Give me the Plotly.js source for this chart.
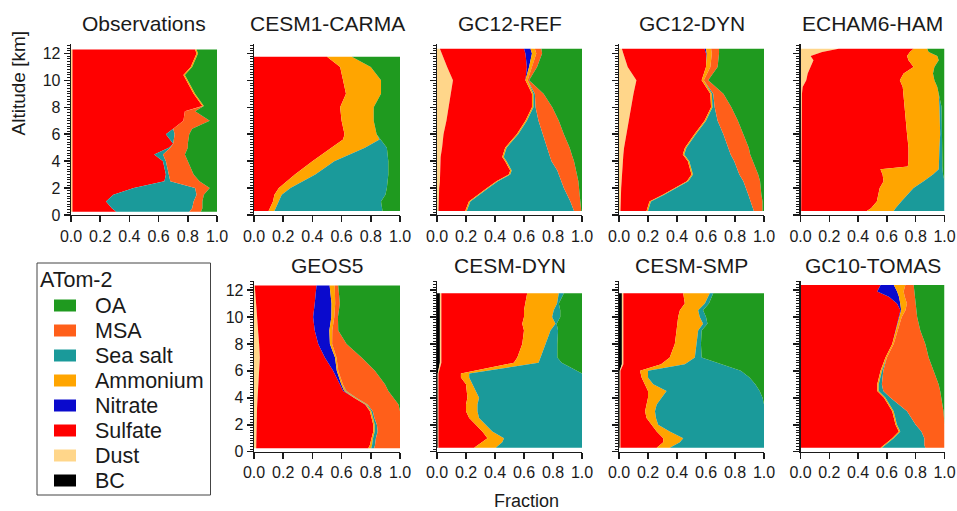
<!DOCTYPE html>
<html><head><meta charset="utf-8">
<script src="https://cdn.plot.ly/plotly-3.0.1.min.js"></script>
<style>html,body{margin:0;padding:0;background:#fff;overflow:hidden}#chart{width:957px;height:511px}</style>
</head><body><div id="chart"></div>
<script>
// ---------- categories / styling lists ----------
const SPECIES = ['BC','Dust','Sulfate','Nitrate','Ammonium','Sea salt','MSA','OA'];
const COLORS  = ['#000000','#FFD68A','#FF0000','#0A0ACD','#FFA500','#1A9A9A','#FF5F1A','#1F9A1F'];
const LEGEND_ORDER = ['OA','MSA','Sea salt','Ammonium','Nitrate','Sulfate','Dust','BC'];
const LEGEND_TITLE = 'ATom-2';
const X_TICKS = [0,0.2,0.4,0.6,0.8,1.0];
const X_TICK_LABELS = ['0.0','0.2','0.4','0.6','0.8','1.0'];
const Y_TICKS = [0,2,4,6,8,10,12];
const Y_TICK_LABELS = ['0','2','4','6','8','10','12'];

// ---------- Observations ----------
const OBS_ALT      = [0.25,0.5,1,1.5,2,2.5,3,4,4.5,5,5.3,6,6.4,7,7.7,8.1,9,10,10.4,11,12,12.3];
const OBS_DUST     = [0.01,0.01,0.01,0.01,0.01,0.01,0.01,0.01,0.01,0.01,0.01,0.01,0.01,0.01,0.01,0.01,0.01,0.01,0.01,0.01,0.01,0.01];
const OBS_SULFATE  = [0.30,0.27,0.23,0.28,0.42,0.63,0.64,0.62,0.56,0.66,0.69,0.64,0.69,0.76,0.77,0.89,0.83,0.78,0.76,0.81,0.85,0.84];
const OBS_AMMONIUM = [0,0,0,0,0,0,0,0,0,0,0,0,0,0,0,0.01,0.01,0.01,0.01,0.01,0.01,0.01];
const OBS_SEASALT  = [0.50,0.55,0.60,0.57,0.42,0.04,0.02,0.02,0.06,0.01,0,0.06,0,0,0,0,0,0,0,0,0,0];
const OBS_MSA      = [0.08,0.07,0.06,0.05,0.10,0.20,0.17,0.15,0.15,0.12,0.10,0.10,0.13,0.18,0.07,0,0,0,0,0,0,0];
const OBS_OA       = [0.11,0.10,0.10,0.09,0.05,0.12,0.16,0.20,0.22,0.20,0.20,0.19,0.17,0.05,0.15,0.09,0.15,0.20,0.22,0.17,0.13,0.14];

// ---------- CESM1-CARMA ----------
const CARMA_ALT      = [0.3,1.0,1.5,2.0,3.0,4.0,5.0,5.6,6.0,7.0,8.0,9.0,10.0,11.0,11.75];
const CARMA_SULFATE  = [0.10,0.13,0.14,0.17,0.28,0.40,0.53,0.61,0.62,0.60,0.59,0.63,0.61,0.59,0.50];
const CARMA_AMMONIUM = [0.04,0.04,0.05,0.08,0.14,0.15,0.23,0.25,0.22,0.22,0.23,0.24,0.26,0.21,0.17];
const CARMA_SEASALT  = [0.74,0.70,0.71,0.66,0.50,0.37,0.15,0.01,0,0,0,0,0,0,0];
const CARMA_OA       = [0.12,0.13,0.10,0.09,0.08,0.08,0.09,0.13,0.16,0.18,0.18,0.13,0.13,0.20,0.33];

// ---------- GC12-REF ----------
const REF_ALT      = [0.3,1,2,2.5,3,3.3,4,4.3,5,6,7,8,9,10,11,12,12.35];
const REF_DUST     = [0.01,0.01,0.015,0.02,0.02,0.02,0.025,0.025,0.035,0.045,0.065,0.08,0.09,0.11,0.07,0.035,0.02];
const REF_SULFATE  = [0.185,0.21,0.33,0.39,0.475,0.485,0.445,0.425,0.435,0.505,0.545,0.575,0.565,0.50,0.55,0.575,0.58];
const REF_NITRATE  = [0,0,0,0,0,0,0,0,0,0,0,0,0,0,0.015,0.045,0.045];
const REF_AMMONIUM = [0.01,0.01,0.01,0.01,0.01,0.01,0.01,0.01,0.01,0.01,0.01,0.01,0.01,0.015,0.02,0.03,0.03];
const REF_SEASALT  = [0.74,0.69,0.52,0.44,0.335,0.315,0.31,0.32,0.28,0.17,0.08,0.015,0.01,0,0,0,0];
const REF_MSA      = [0.05,0.07,0.105,0.115,0.125,0.13,0.155,0.155,0.155,0.145,0.14,0.115,0.06,0.01,0.035,0.04,0.045];
const REF_OA       = [0.005,0.01,0.02,0.025,0.035,0.04,0.055,0.065,0.085,0.125,0.16,0.205,0.265,0.365,0.31,0.275,0.28];

// ---------- GC12-DYN ----------
const GDYN_ALT      = [0.3,1,1.5,2,2.5,3,4,4.5,5,6,7,8,9,10,11,12,12.35];
const GDYN_DUST     = [0.01,0.01,0.012,0.015,0.018,0.02,0.025,0.03,0.035,0.05,0.07,0.085,0.10,0.12,0.06,0.03,0.02];
const GDYN_SULFATE  = [0.18,0.20,0.29,0.37,0.45,0.48,0.45,0.41,0.42,0.47,0.52,0.55,0.53,0.45,0.54,0.57,0.57];
const GDYN_NITRATE  = [0,0,0,0,0,0,0,0,0,0,0,0,0,0,0,0.005,0.01];
const GDYN_AMMONIUM = [0.01,0.01,0.01,0.01,0.01,0.01,0.01,0.01,0.01,0.01,0.01,0.01,0.01,0.015,0.03,0.035,0.035];
const GDYN_SEASALT  = [0.73,0.69,0.58,0.48,0.38,0.32,0.31,0.32,0.29,0.19,0.08,0.015,0.01,0,0,0,0];
const GDYN_MSA      = [0.06,0.08,0.09,0.10,0.115,0.13,0.13,0.135,0.14,0.14,0.14,0.115,0.07,0.03,0.05,0.05,0.055];
const GDYN_OA       = [0.01,0.01,0.018,0.025,0.027,0.04,0.075,0.095,0.105,0.14,0.18,0.225,0.28,0.385,0.32,0.31,0.31];

// ---------- ECHAM6-HAM ----------
const ECH_ALT      = [0.3,0.5,1,1.5,2,2.5,3,3.4,3.6,4,5,6,7,8,9,9.5,10,10.5,11,11.5,11.8,12.1,12.35];
const ECH_DUST     = [0.005,0.005,0.005,0.005,0.005,0.005,0.005,0.005,0.005,0.005,0.005,0.005,0.005,0.005,0.01,0.015,0.04,0.05,0.07,0.09,0.07,0.15,0.265];
const ECH_SULFATE  = [0.455,0.485,0.525,0.535,0.545,0.572,0.565,0.55,0.74,0.745,0.745,0.735,0.725,0.715,0.705,0.695,0.65,0.666,0.715,0.66,0.67,0.61,0.52];
const ECH_AMMONIUM = [0.187,0.17,0.17,0.20,0.235,0.278,0.35,0.405,0.215,0.21,0.215,0.23,0.24,0.245,0.245,0.24,0.24,0.204,0.145,0.21,0.21,0.13,0.095];
const ECH_SEASALT  = [0.353,0.34,0.30,0.26,0.215,0.145,0.07,0.025,0.025,0.025,0.02,0.015,0.015,0.015,0,0,0,0,0,0,0,0,0];
const ECH_OA       = [0,0,0,0,0,0,0.01,0.015,0.015,0.015,0.015,0.015,0.015,0.02,0.04,0.05,0.07,0.08,0.07,0.04,0.05,0.11,0.12];

// ---------- GEOS5 ----------
const GEOS_ALT      = [0.25,0.5,1,1.5,2,2.5,3,3.5,4,4.5,5,6,7,8,9,10,11,12.33];
const GEOS_DUST     = [0.015,0.015,0.015,0.015,0.015,0.018,0.02,0.022,0.025,0.028,0.03,0.035,0.04,0.035,0.028,0.02,0.01,0.005];
const GEOS_SULFATE  = [0.768,0.779,0.79,0.802,0.802,0.787,0.774,0.738,0.655,0.582,0.558,0.507,0.445,0.405,0.388,0.385,0.406,0.423];
const GEOS_NITRATE  = [0,0,0,0,0,0,0,0.003,0.005,0.008,0.01,0.025,0.07,0.08,0.10,0.125,0.115,0.09];
const GEOS_AMMONIUM = [0.02,0.015,0.01,0.01,0.01,0.01,0.01,0.01,0.01,0.01,0.01,0.01,0.01,0.015,0.02,0.02,0.025,0.035];
const GEOS_SEASALT  = [0.02,0.02,0.02,0.02,0.015,0.01,0.01,0.005,0.005,0.005,0,0,0,0,0,0,0,0];
const GEOS_MSA      = [0.177,0.171,0.165,0.153,0.158,0.175,0.186,0.212,0.254,0.287,0.289,0.251,0.172,0.099,0.041,0.025,0.032,0.024];
const GEOS_OA       = [0,0,0,0,0,0,0,0.01,0.046,0.08,0.103,0.172,0.263,0.366,0.423,0.425,0.412,0.423];

// ---------- CESM-DYN ----------
const CDYN_ALT      = [0.3,0.7,1,1.5,2,2.5,3,3.5,4,5,5.5,5.8,6.6,7,8,9,9.5,10,10.5,11,11.76];
const CDYN_BC       = [0.005,0.005,0.005,0.005,0.005,0.005,0.005,0.005,0.005,0.005,0.005,0.005,0.02,0.02,0.02,0.02,0.02,0.02,0.02,0.02,0.02];
const CDYN_DUST     = [0.005,0.005,0.005,0.005,0.005,0.005,0.005,0.005,0.005,0.005,0.005,0.005,0.01,0.01,0.01,0.01,0.01,0.01,0.01,0.01,0.01];
const CDYN_SULFATE  = [0.246,0.30,0.338,0.303,0.258,0.212,0.19,0.19,0.20,0.19,0.155,0.155,0.50,0.524,0.558,0.57,0.558,0.57,0.57,0.58,0.592];
const CDYN_AMMONIUM = [0.149,0.14,0.114,0.069,0.068,0.068,0.079,0.079,0.08,0.045,0.057,0.057,0.17,0.16,0.16,0.183,0.229,0.194,0.205,0.218,0.218];
const CDYN_SEASALT  = [0.595,0.55,0.538,0.618,0.664,0.71,0.721,0.721,0.71,0.755,0.778,0.778,0.16,0.116,0.082,0.052,0.008,0.056,0.045,0.012,0.035];
const CDYN_OA       = [0,0,0,0,0,0,0,0,0,0,0,0,0.14,0.17,0.17,0.165,0.175,0.15,0.15,0.16,0.125];

// ---------- CESM-SMP ----------
const CSMP_ALT      = [0.3,0.7,1,1.5,2,2.5,3,3.5,4,4.5,5,5.5,6,6.5,7,8,9,9.5,10,10.5,11,11.76];
const CSMP_BC       = [0.005,0.005,0.005,0.005,0.005,0.005,0.005,0.005,0.005,0.005,0.005,0.005,0.005,0.02,0.02,0.02,0.02,0.02,0.02,0.02,0.02,0.02];
const CSMP_DUST     = [0.005,0.005,0.005,0.005,0.005,0.005,0.005,0.005,0.005,0.005,0.005,0.005,0.005,0.01,0.01,0.01,0.01,0.01,0.01,0.01,0.01,0.01];
const CSMP_SULFATE  = [0.25,0.295,0.295,0.25,0.215,0.18,0.17,0.18,0.19,0.19,0.17,0.146,0.135,0.26,0.32,0.355,0.367,0.37,0.378,0.39,0.424,0.413];
const CSMP_AMMONIUM = [0.09,0.115,0.138,0.09,0.045,0.065,0.068,0.07,0.094,0.128,0.056,0.044,0.055,0.164,0.173,0.149,0.149,0.18,0.149,0.126,0.138,0.183];
const CSMP_SEASALT  = [0.65,0.58,0.557,0.65,0.73,0.745,0.752,0.74,0.696,0.642,0.704,0.70,0.64,0.246,0.047,0.031,0.024,0.03,0.043,0.034,0.028,0.024];
const CSMP_OA       = [0,0,0,0,0,0,0,0,0.01,0.03,0.06,0.10,0.16,0.30,0.43,0.435,0.43,0.39,0.40,0.42,0.38,0.35];

// ---------- GC10-TOMAS ----------
const TOM_ALT      = [0.3,0.5,1,1.5,2,3,4,4.5,5,6,7,8,9,10,10.5,11,11.5,11.9,12.38];
const TOM_SULFATE  = [0.556,0.58,0.637,0.683,0.66,0.637,0.58,0.533,0.533,0.556,0.59,0.637,0.66,0.683,0.694,0.67,0.614,0.533,0.556];
const TOM_NITRATE  = [0,0,0,0,0,0,0,0,0,0,0,0,0,0,0.005,0.023,0.07,0.138,0.092];
const TOM_AMMONIUM = [0.01,0.01,0.01,0.01,0.01,0.01,0.01,0.01,0.01,0.01,0.01,0.01,0.015,0.02,0.03,0.046,0.04,0.045,0.08];
const TOM_SEASALT  = [0.301,0.27,0.213,0.147,0.13,0.093,0.035,0.032,0.022,0.009,0,0,0,0,0,0,0,0,0];
const TOM_MSA      = [0.133,0.14,0.14,0.16,0.20,0.253,0.355,0.395,0.394,0.349,0.29,0.22,0.157,0.107,0.076,0.061,0.071,0.074,0.058];
const TOM_OA       = [0,0,0,0,0,0.007,0.02,0.03,0.041,0.076,0.11,0.133,0.168,0.19,0.195,0.20,0.205,0.21,0.214];

// ---------- panel table ----------
const panels = [
  {title:'Observations', row:0, col:0, alt:OBS_ALT,
   data:{'Dust':OBS_DUST,'Sulfate':OBS_SULFATE,'Ammonium':OBS_AMMONIUM,'Sea salt':OBS_SEASALT,'MSA':OBS_MSA,'OA':OBS_OA}},
  {title:'CESM1-CARMA', row:0, col:1, alt:CARMA_ALT,
   data:{'Sulfate':CARMA_SULFATE,'Ammonium':CARMA_AMMONIUM,'Sea salt':CARMA_SEASALT,'OA':CARMA_OA}},
  {title:'GC12-REF', row:0, col:2, alt:REF_ALT,
   data:{'Dust':REF_DUST,'Sulfate':REF_SULFATE,'Nitrate':REF_NITRATE,'Ammonium':REF_AMMONIUM,'Sea salt':REF_SEASALT,'MSA':REF_MSA,'OA':REF_OA}},
  {title:'GC12-DYN', row:0, col:3, alt:GDYN_ALT,
   data:{'Dust':GDYN_DUST,'Sulfate':GDYN_SULFATE,'Nitrate':GDYN_NITRATE,'Ammonium':GDYN_AMMONIUM,'Sea salt':GDYN_SEASALT,'MSA':GDYN_MSA,'OA':GDYN_OA}},
  {title:'ECHAM6-HAM', row:0, col:4, alt:ECH_ALT,
   data:{'Dust':ECH_DUST,'Sulfate':ECH_SULFATE,'Ammonium':ECH_AMMONIUM,'Sea salt':ECH_SEASALT,'OA':ECH_OA}},
  {title:'GEOS5', row:1, col:1, alt:GEOS_ALT,
   data:{'Dust':GEOS_DUST,'Sulfate':GEOS_SULFATE,'Nitrate':GEOS_NITRATE,'Ammonium':GEOS_AMMONIUM,'Sea salt':GEOS_SEASALT,'MSA':GEOS_MSA,'OA':GEOS_OA}},
  {title:'CESM-DYN', row:1, col:2, alt:CDYN_ALT,
   data:{'BC':CDYN_BC,'Dust':CDYN_DUST,'Sulfate':CDYN_SULFATE,'Ammonium':CDYN_AMMONIUM,'Sea salt':CDYN_SEASALT,'OA':CDYN_OA}},
  {title:'CESM-SMP', row:1, col:3, alt:CSMP_ALT,
   data:{'BC':CSMP_BC,'Dust':CSMP_DUST,'Sulfate':CSMP_SULFATE,'Ammonium':CSMP_AMMONIUM,'Sea salt':CSMP_SEASALT,'OA':CSMP_OA}},
  {title:'GC10-TOMAS', row:1, col:4, alt:TOM_ALT,
   data:{'Sulfate':TOM_SULFATE,'Nitrate':TOM_NITRATE,'Ammonium':TOM_AMMONIUM,'Sea salt':TOM_SEASALT,'MSA':TOM_MSA,'OA':TOM_OA}}
];

// ---------- geometry (pixels) ----------
const W = 957, H = 511;
const COL_PX = [[71,217],[254,400],[437,582],[619,764],[800.5,944.5]];
const ROW_PX = [[44,215],[280.6,451.7]];   // top,bottom of plot area
const TITLE_Y = [23.5, 265.5];
const FONT = 'Liberation Sans, Arial, Helvetica, sans-serif';
const INK = '#1a1a1a';
const px2x = p => p / W;
const px2y = p => 1 - p / H;

const traces = [];
const layout = {
  width: W, height: H, margin:{l:0,r:0,t:0,b:0},
  paper_bgcolor:'#ffffff', plot_bgcolor:'#ffffff',
  showlegend:false, hovermode:false,
  font:{family:FONT, color:INK},
  annotations:[], shapes:[]
};

panels.forEach((p, i) => {
  const n = i + 1;
  const xs = n === 1 ? 'x' : 'x' + n;
  const ys = n === 1 ? 'y' : 'y' + n;
  SPECIES.forEach((sp, k) => {
    const vals = p.data[sp];
    if (!vals) return;
    traces.push({
      type:'scatter', mode:'lines', name: sp,
      x: vals, y: p.alt, xaxis: xs, yaxis: ys,
      stackgroup:'g' + n, orientation:'h',
      line:{width:0, color:COLORS[k]}, fillcolor:COLORS[k],
      hoverinfo:'skip', showlegend:false
    });
  });
  const cx = COL_PX[p.col], ry = ROW_PX[p.row];
  layout['xaxis' + (n === 1 ? '' : n)] = {
    domain:[px2x(cx[0]), px2x(cx[1])], anchor: ys, range:[0,1],
    tickmode:'array', tickvals:X_TICKS, ticktext:X_TICK_LABELS,
    ticks:'outside', ticklen:6, tickwidth:1.5, tickcolor:INK,
    ticklabeloverflow:'allow',
    showline:true, linecolor:INK, linewidth:1.3,
    showgrid:false, zeroline:false, fixedrange:true,
    tickfont:{family:FONT, size:16, color:INK}
  };
  layout['yaxis' + (n === 1 ? '' : n)] = {
    domain:[px2y(ry[1]), px2y(ry[0])], anchor: xs, range:[0,12.7],
    tickmode:'array', tickvals:Y_TICKS, ticktext:Y_TICK_LABELS,
    showticklabels: p.col === 0 || (p.col === 1 && p.row === 1),
    ticks:'outside', ticklen:6, tickwidth:1.5, tickcolor:INK,
    ticklabeloverflow:'allow',
    minor:{tickmode:'linear', tick0:0, dtick:0.2, ticks:'outside', ticklen:3, tickwidth:1, tickcolor:INK, showgrid:false},
    showline:true, linecolor:INK, linewidth:1.3,
    showgrid:false, zeroline:false, fixedrange:true,
    tickfont:{family:FONT, size:16, color:INK}
  };
  layout.annotations.push({
    xref:'paper', yref:'paper', x: px2x((cx[0]+cx[1])/2), y: px2y(TITLE_Y[p.row]),
    xanchor:'center', yanchor:'middle', showarrow:false,
    text: p.title, font:{family:FONT, size:21, color:INK}
  });
});

// axis titles
layout.annotations.push({
  xref:'paper', yref:'paper', x: px2x(18), y: px2y(83.5), textangle:-90,
  xanchor:'center', yanchor:'middle', showarrow:false,
  text:'Altitude [km]', font:{family:FONT, size:19, color:INK}
});
layout.annotations.push({
  xref:'paper', yref:'paper', x: px2x(526), y: px2y(501),
  xanchor:'center', yanchor:'middle', showarrow:false,
  text:'Fraction', font:{family:FONT, size:18, color:INK}
});

// legend box (drawn manually to match swatch layout)
layout.shapes.push({type:'rect', xref:'paper', yref:'paper',
  x0:px2x(37), x1:px2x(210.5), y0:px2y(495), y1:px2y(263),
  line:{color:'#444', width:1}, fillcolor:'rgba(0,0,0,0)'});
layout.annotations.push({
  xref:'paper', yref:'paper', x: px2x(38), y: px2y(280),
  xanchor:'left', yanchor:'middle', showarrow:false,
  text: LEGEND_TITLE, font:{family:FONT, size:21.5, color:INK}
});
LEGEND_ORDER.forEach((sp, j) => {
  const cy = 305.5 + 25 * j;
  const col = COLORS[SPECIES.indexOf(sp)];
  layout.shapes.push({type:'rect', xref:'paper', yref:'paper',
    x0:px2x(54), x1:px2x(76), y0:px2y(cy + 6), y1:px2y(cy - 6),
    line:{width:0}, fillcolor: col});
  layout.annotations.push({
    xref:'paper', yref:'paper', x: px2x(93), y: px2y(cy),
    xanchor:'left', yanchor:'middle', showarrow:false,
    text: sp, font:{family:FONT, size:21.5, color:INK}
  });
});

Plotly.newPlot('chart', traces, layout, {staticPlot:true, displayModeBar:false});
</script>
</body></html>
